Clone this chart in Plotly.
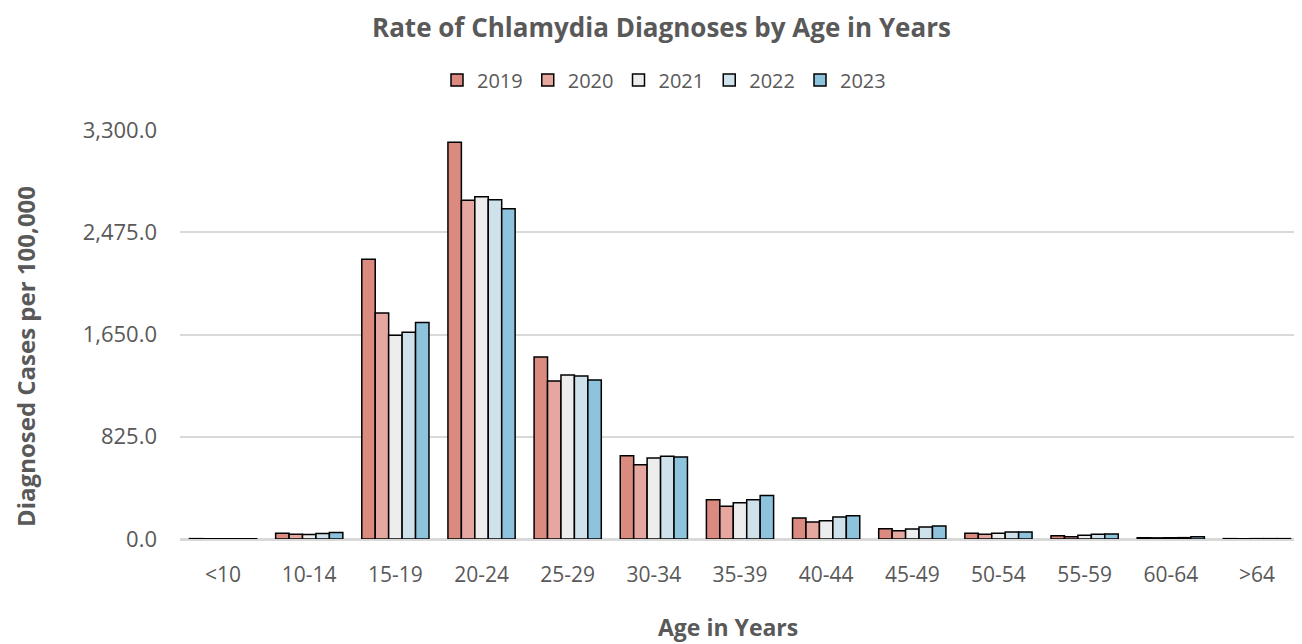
import plotly.graph_objects as go

categories = ["<10", "10-14", "15-19", "20-24", "25-29", "30-34", "35-39",
              "40-44", "45-49", "50-54", "55-59", "60-64", ">64"]
years = ["2019", "2020", "2021", "2022", "2023"]
rate_2019 = [3, 46, 2257, 3201, 1468, 672, 317, 170, 83, 46, 27, 10, 3]
rate_2020 = [2, 38, 1823, 2733, 1275, 600, 264, 137, 67, 38, 19, 9, 2]
rate_2021 = [2, 36, 1644, 2762, 1323, 653, 293, 148, 81, 46, 30, 10, 3]
rate_2022 = [2, 44, 1668, 2738, 1315, 667, 317, 178, 97, 56, 38, 11, 3]
rate_2023 = [2, 52, 1746, 2665, 1283, 662, 350, 188, 105, 56, 40, 18, 3]
series = [rate_2019, rate_2020, rate_2021, rate_2022, rate_2023]
colors = ["#DA8A7E", "#E5A7A0", "#EDEDED", "#CFE2EC", "#8DC3DC"]
y_ticks = [0, 825, 1650, 2475, 3300]

font_family = "Open Sans, Noto Sans, sans-serif"
grey = "#595959"

# page body has an 8px margin; compensate so the chart lands where the reference has it
OFF = 8
W, H = 1302 - OFF, 644 - OFF
ML, MR, MT, MB = 180 - OFF, 2, 130 - OFF, 105
ph = H - MT - MB
pw = W - ML - MR


def px_x(x):
    return (x - OFF - ML) / pw


def px_y(y):
    return (H - MB - (y - OFF)) / ph


fig = go.Figure()
for year, vals, col in zip(years, series, colors):
    fig.add_trace(go.Bar(
        x=categories, y=vals, name=year,
        marker=dict(color=col, line=dict(color="#000000", width=1.5)),
    ))

fig.update_layout(
    width=W, height=H,
    margin=dict(l=ML, r=MR, t=MT, b=MB, autoexpand=False),
    paper_bgcolor="white", plot_bgcolor="white",
    barmode="group", bargap=0.22, bargroupgap=0,
    font=dict(family=font_family, color=grey, size=20),
    legend=dict(orientation="h", x=px_x(664), xanchor="center",
                y=px_y(80), yanchor="middle",
                font=dict(size=20, color=grey), traceorder="normal",
                itemwidth=30),
    showlegend=True,
    annotations=[
        dict(text="<b>Rate of Chlamydia Diagnoses by Age in Years</b>",
             xref="paper", yref="paper", x=px_x(661), y=px_y(27),
             xanchor="center", yanchor="middle", borderpad=0,
             showarrow=False, font=dict(size=26, color=grey)),
        dict(text="<b>Diagnosed Cases per 100,000</b>",
             xref="paper", yref="paper", x=px_x(25), y=px_y(357),
             xanchor="center", yanchor="middle",
             textangle=-90, showarrow=False, font=dict(size=24, color=grey)),
        dict(text="<b>Age in Years</b>",
             xref="paper", yref="paper", x=px_x(728), y=px_y(627),
             xanchor="center", yanchor="middle",
             showarrow=False, font=dict(size=23, color=grey)),
    ],
)
fig.update_yaxes(
    range=[0, 3300], tickvals=y_ticks, tickformat=",.1f",
    showgrid=True, gridcolor="#D9D9D9", gridwidth=1.5,
    zeroline=True, zerolinecolor="#D9D9D9", zerolinewidth=1.5,
    ticks="", ticklabelstandoff=22, automargin=False,
    tickfont=dict(size=22, color=grey),
)
fig.update_xaxes(
    showline=True, linecolor="#D9D9D9", linewidth=1.5,
    ticks="", tickfont=dict(size=21, color=grey), ticklabelstandoff=16,
    automargin=False,
)

fig.write_html("out.html")
